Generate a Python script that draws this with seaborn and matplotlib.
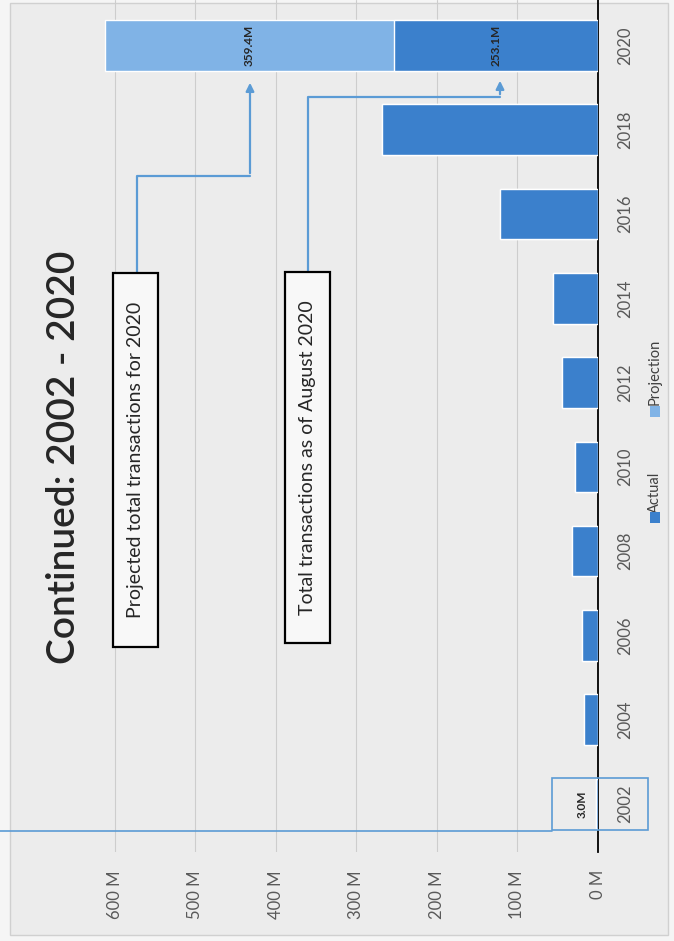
import matplotlib
matplotlib.use('Agg')
import numpy as np
import pandas as pd
import matplotlib.pyplot as plt
import seaborn as sns
from matplotlib.patches import Rectangle, FancyArrowPatch
from matplotlib.lines import Line2D

# ---------------- data ----------------
years = ['2002', '2004', '2006', '2008', '2010', '2012', '2014', '2016', '2018', '2020']
actual = [3.0, 17, 20, 32, 28, 45, 56, 122, 268, 253.1]
projection = [0, 0, 0, 0, 0, 0, 0, 0, 0, 359.4]
value_ticks = [0, 100, 200, 300, 400, 500, 600]
value_tick_labels = ['0 M', '100 M', '200 M', '300 M', '400 M', '500 M', '600 M']
title = 'Continued: 2002 - 2020'
note_projected = 'Projected total transactions for 2020'
note_actual = 'Total transactions as of August 2020'
legend_labels = ['Actual', 'Projection']

dark = '#3b80cc'
light = '#80b3e6'
line_blue = '#5b9bd5'

sns.set_style('white')
plt.rcParams['font.family'] = ['Lato', 'DejaVu Sans']

W, H = 674, 941
def fx(x): return x / W
def fy(y): return 1 - y / H

fig = plt.figure(figsize=(W / 100, H / 100), dpi=100, facecolor='#f5f5f5')
fig.add_artist(Rectangle((fx(10), fy(935)), 658 / W, 932 / H, transform=fig.transFigure,
                         fc='#ececec', ec='#d0d0d0', lw=1, zorder=-10))

ax = fig.add_axes([fx(20), fy(852), (598 - 20) / W, 852 / H])
ax.set_facecolor('none')

df = pd.DataFrame({'year': years, 'Actual': actual, 'Projection': projection})
df['stack_top'] = df['Actual'] + df['Projection']
order = years[::-1]

sns.barplot(data=df, x='stack_top', y='year', order=order, orient='y', color=light,
            saturation=1, width=0.6, errorbar=None, ax=ax, zorder=2)
sns.barplot(data=df, x='Actual', y='year', order=order, orient='y', color=dark,
            saturation=1, width=0.6, errorbar=None, ax=ax, zorder=3)

ax.set_ylim(9.57, -0.54)
ax.set_xlim(718, 0)
ax.set_xlabel('')
ax.set_ylabel('')

ax.set_xticks(value_ticks)
ax.set_xticklabels(value_tick_labels, rotation=90, fontsize=12, color='#595959')
ax.tick_params(axis='x', length=0, pad=13)
ax.yaxis.tick_right()
ax.tick_params(axis='y', length=0, pad=14, labelsize=12, labelcolor='#595959', labelrotation=90)
plt.setp(ax.get_yticklabels(), va='center')

ax.grid(axis='x', color='#cdcdcd', lw=0.8)
ax.set_axisbelow(True)
for s in ['top', 'left', 'bottom']:
    ax.spines[s].set_visible(False)
ax.spines['right'].set_color('black')
ax.spines['right'].set_linewidth(1.3)

# data labels
i2020 = order.index('2020')
ax.text(actual[-1] + projection[-1] / 2, i2020, f'{projection[-1]:.1f}M', rotation=90,
        ha='center', va='center', fontsize=8.5, fontweight='bold', color='#262626', zorder=5)
ax.text(actual[-1] / 2, i2020, f'{actual[-1]:.1f}M', rotation=90,
        ha='center', va='center', fontsize=8.5, fontweight='bold', color='#262626', zorder=5)
i2002 = order.index('2002')
ax.text(actual[0] + 17, i2002, f'{actual[0]:.1f}M', rotation=90,
        ha='center', va='center', fontsize=8.5, fontweight='bold', color='#262626', zorder=5)

# title
fig.text(fx(64), fy(457), title, rotation=90, ha='center', va='center',
         fontsize=28, fontweight='semibold', color='#262626')

# annotation boxes
def box(x0, y0, x1, y1, text, ec='black', lw=1.6, fs=14):
    fig.add_artist(Rectangle((fx(x0), fy(y1)), (x1 - x0) / W, (y1 - y0) / H,
                             transform=fig.transFigure, fc='#f8f8f8', ec=ec, lw=lw, zorder=5))
    if text:
        fig.text(fx((x0 + x1) / 2), fy((y0 + y1) / 2), text, rotation=90, ha='center',
                 va='center', fontsize=fs, color='#262626', zorder=6)

box(113, 273, 158, 647, note_projected)
box(285, 272, 330, 643, note_actual)

def connector(pts):
    xs = [fx(p[0]) for p in pts[:-1]]
    ys = [fy(p[1]) for p in pts[:-1]]
    fig.add_artist(Line2D(xs, ys, transform=fig.transFigure, color=line_blue, lw=1.6, zorder=4))
    a, b = pts[-2], pts[-1]
    fig.add_artist(FancyArrowPatch((fx(a[0]), fy(a[1])), (fx(b[0]), fy(b[1])),
                                   transform=fig.transFigure, arrowstyle='-|>',
                                   mutation_scale=12, color=line_blue, lw=1.6, zorder=4))

connector([(137, 273), (137, 176), (250, 176), (250, 80)])
connector([(308, 272), (308, 97), (500, 97), (500, 78)])

# 2002 highlight box and line
fig.add_artist(Rectangle((fx(552), fy(830)), 96 / W, 52 / H, transform=fig.transFigure,
                         fc='none', ec=line_blue, lw=1.2, zorder=5))
fig.add_artist(Line2D([fx(0), fx(552)], [fy(831), fy(831)], transform=fig.transFigure,
                      color=line_blue, lw=1.2, zorder=5))

# legend (manual, rotated)
leg = [(legend_labels[0], dark, 517, 492), (legend_labels[1], light, 411, 372)]
for lab, col, sq_y, txt_y in leg:
    fig.add_artist(Rectangle((fx(650), fy(sq_y + 6)), 10 / W, 11 / H,
                             transform=fig.transFigure, fc=col, ec='none', zorder=5))
    fig.text(fx(655), fy(txt_y), lab, rotation=90, ha='center', va='center',
             fontsize=10.5, color='#404040')

fig.savefig('out.png', dpi=100, facecolor=fig.get_facecolor())
